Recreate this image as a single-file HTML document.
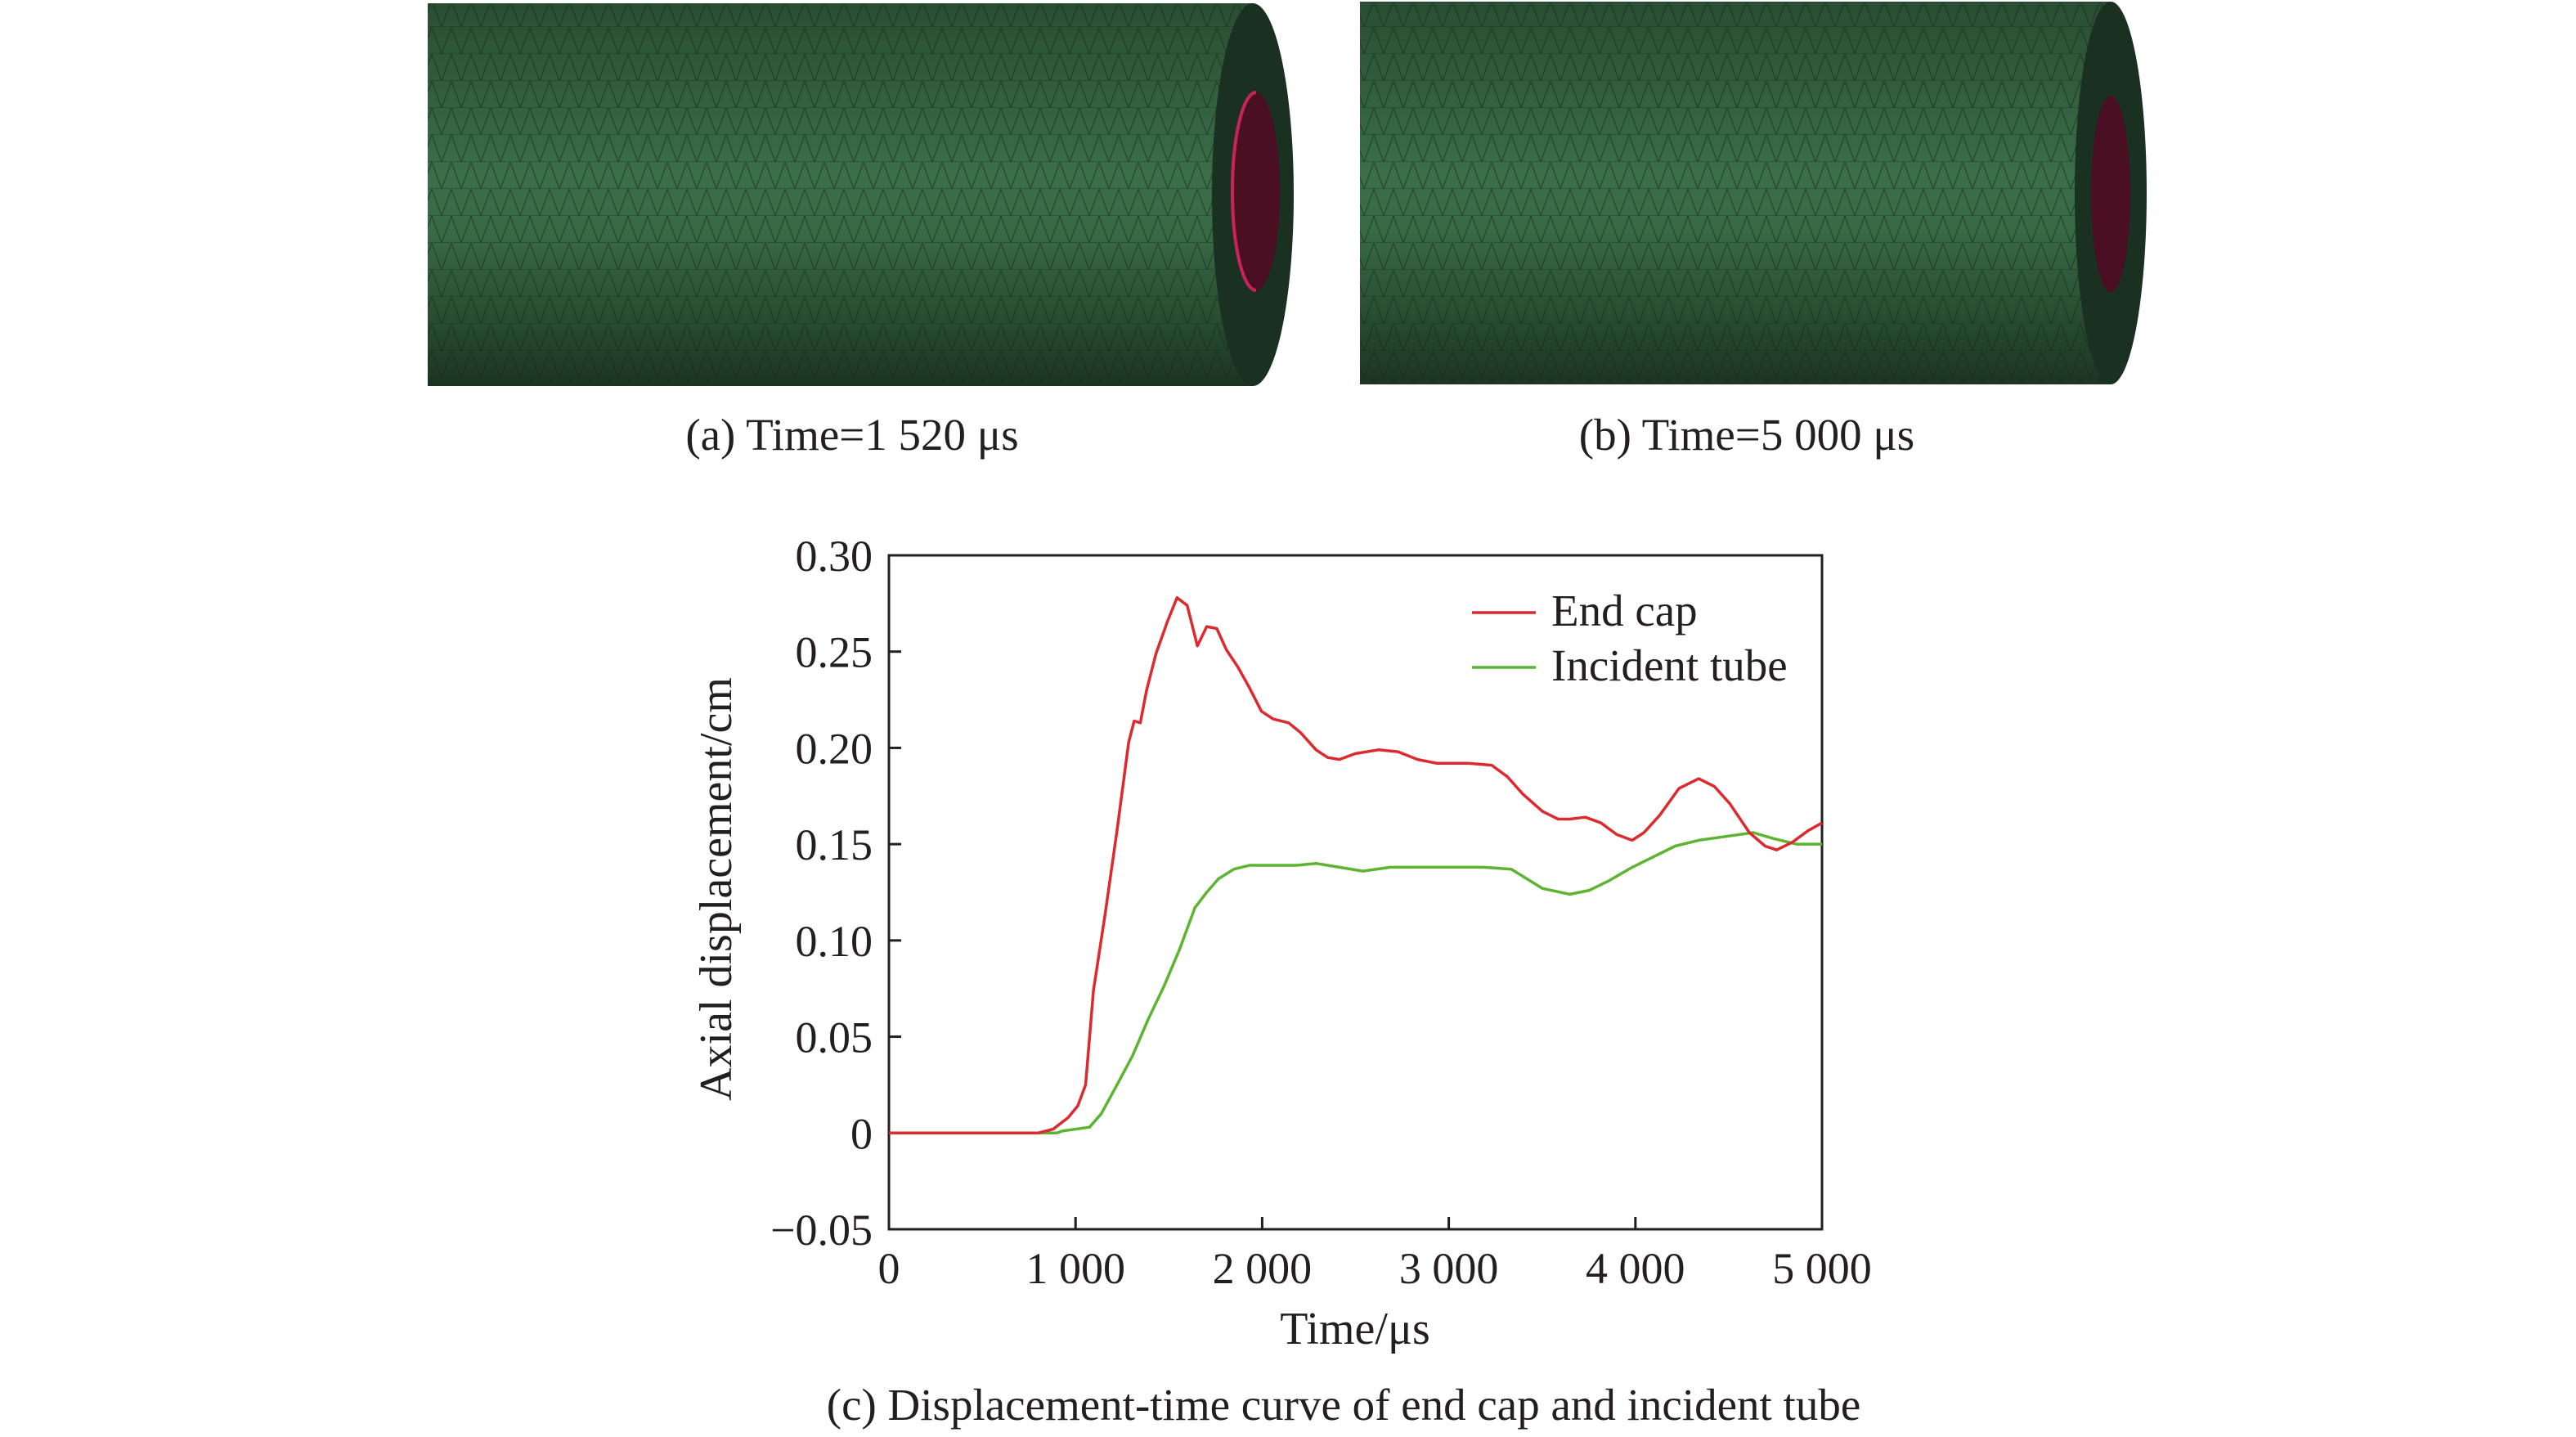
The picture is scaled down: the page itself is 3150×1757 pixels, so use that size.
<!DOCTYPE html>
<html><head><meta charset="utf-8"><style>
html,body{margin:0;padding:0;background:#fff;}
body{width:3150px;height:1752px;overflow:hidden;font-family:"Liberation Serif",serif;}
svg text{font-family:"Liberation Serif",serif;fill:#231f20;}
</style></head><body>
<svg id="fig" width="3150" height="1752" viewBox="0 0 3150 1752" xmlns="http://www.w3.org/2000/svg">
<defs>
<linearGradient id="tubeGrad" x1="0" y1="0" x2="0" y2="1">
<stop offset="0" stop-color="#2a4d33"/><stop offset="0.45" stop-color="#3a6e48"/><stop offset="0.6" stop-color="#386a45"/><stop offset="1" stop-color="#1c3522"/>
</linearGradient>
<pattern id="mesh" width="24" height="33" patternUnits="userSpaceOnUse">
<path d="M0 0 L12 33 L24 0 M0 33 L24 33" stroke="#14261a" stroke-width="1.2" fill="none" opacity="0.55"/>
</pattern>
</defs>

<g>
<rect x="523" y="4" width="1009" height="468" fill="url(#tubeGrad)"/>
<rect x="523" y="4" width="1009" height="468" fill="url(#mesh)"/>
<ellipse cx="1532" cy="238" rx="50" ry="234" fill="#1a3020"/>
<ellipse cx="1536" cy="234" rx="29" ry="121" fill="#4a0f22"/>
<path d="M1536 113 A29 121 0 0 0 1536 355" fill="none" stroke="#c8245a" stroke-width="4"/>
</g>
<g>
<rect x="1663" y="2" width="918" height="468" fill="url(#tubeGrad)"/>
<rect x="1663" y="2" width="918" height="468" fill="url(#mesh)"/>
<ellipse cx="2581" cy="236" rx="44" ry="234" fill="#1a3020"/>
<ellipse cx="2581" cy="237" rx="24" ry="120" fill="#4a0f22"/>
</g>
<text x="1042" y="550" font-size="55" text-anchor="middle">(a) Time=1 520 μs</text>
<text x="2136" y="550" font-size="55" text-anchor="middle">(b) Time=5 000 μs</text>

<g id="chart"></g>
<text x="1643" y="1736" font-size="55" text-anchor="middle">(c) Displacement-time curve of end cap and incident tube</text>
</svg>
<script>
const xTicks=[0,1000,2000,3000,4000,5000];
const xTickLabels=["0","1 000","2 000","3 000","4 000","5 000"];
const yTicks=[-0.05,0,0.05,0.10,0.15,0.20,0.25,0.30];
const yTickLabels=["\u22120.05","0","0.05","0.10","0.15","0.20","0.25","0.30"];
const endCapT=[0,800,880,960,1012,1054,1096,1159,1222,1285,1314,1347,1381,1431,1494,1544,1598,1653,1703,1757,1808,1870,1933,1996,2059,2142,2205,2289,2351,2414,2498,2623,2728,2833,2937,3105,3230,3314,3397,3502,3586,3649,3732,3816,3900,3983,4046,4130,4234,4339,4423,4506,4611,4695,4757,4841,4925,5000];
const endCapV=[0,0,0.002,0.008,0.014,0.025,0.074,0.114,0.157,0.203,0.214,0.213,0.230,0.249,0.266,0.278,0.274,0.253,0.263,0.262,0.251,0.242,0.231,0.219,0.215,0.213,0.208,0.199,0.195,0.194,0.197,0.199,0.198,0.194,0.192,0.192,0.191,0.185,0.176,0.167,0.163,0.163,0.164,0.161,0.155,0.152,0.156,0.165,0.179,0.184,0.180,0.171,0.156,0.149,0.147,0.151,0.157,0.161];
const tubeT=[0,900,929,1075,1138,1222,1305,1389,1473,1556,1640,1703,1766,1849,1933,2059,2184,2289,2414,2540,2686,2937,3188,3335,3418,3502,3649,3753,3858,3983,4088,4213,4339,4485,4632,4736,4862,5000];
const tubeV=[0,0,0.001,0.003,0.010,0.025,0.040,0.059,0.076,0.095,0.117,0.125,0.132,0.137,0.139,0.139,0.139,0.140,0.138,0.136,0.138,0.138,0.138,0.137,0.132,0.127,0.124,0.126,0.131,0.138,0.143,0.149,0.152,0.154,0.156,0.153,0.150,0.150];

const L=1087,R=2228,T=679,B=1503;
const xS=t=>L+(t-0)/(5000-0)*(R-L);
const yS=v=>B-(v-(-0.05))/(0.30-(-0.05))*(B-T);
const NS="http://www.w3.org/2000/svg";
const g=document.getElementById('chart');
function mk(tag,attrs){const e=document.createElementNS(NS,tag);for(const k in attrs)e.setAttribute(k,attrs[k]);g.appendChild(e);return e;}

const frame=mk('rect',{x:L,y:T,width:R-L,height:B-T,fill:'none',stroke:'#231f20','stroke-width':3});



xTicks.forEach((t,i)=>{
  const tk=mk('line',{x1:xS(t),x2:xS(t),y1:B,y2:B-15,stroke:'#231f20','stroke-width':3});
  
  
  const lb=mk('text',{x:xS(t),y:B+66,'font-size':54,'text-anchor':'middle'});
  lb.textContent=xTickLabels[i];
  
  
});
yTicks.forEach((v,i)=>{
  const tk=mk('line',{x1:L,x2:L+15,y1:yS(v),y2:yS(v),stroke:'#231f20','stroke-width':3});
  
  
  const lb=mk('text',{x:L-20,y:yS(v)+19,'font-size':54,'text-anchor':'end'});
  lb.textContent=yTickLabels[i];
  
  
});
function line(ts,vs,color,name){
  const d=ts.map((t,i)=>(i?'L':'M')+xS(t).toFixed(1)+' '+yS(vs[i]).toFixed(1)).join(' ');
  const p=mk('path',{d:d,fill:'none',stroke:color,'stroke-width':3.5,'stroke-linejoin':'round'});
  
  
}
line(tubeT,tubeV,'#5cb431','incident-tube-line');
line(endCapT,endCapV,'#dc2a2e','end-cap-line');

const xt=mk('text',{x:1657,y:1643,'font-size':56,'text-anchor':'middle'});
xt.textContent='Time/μs';


const yt=mk('text',{x:0,y:0,'font-size':56,'text-anchor':'middle',transform:'translate(894,1087) rotate(-90)'});
yt.textContent='Axial displacement/cm';



const l1=mk('line',{x1:1800,x2:1878,y1:749,y2:749,stroke:'#dc2a2e','stroke-width':3.5});


const t1=mk('text',{x:1897,y:765,'font-size':55});
t1.textContent='End cap';


const l2=mk('line',{x1:1800,x2:1878,y1:816,y2:816,stroke:'#5cb431','stroke-width':3.5});


const t2=mk('text',{x:1897,y:832,'font-size':55});
t2.textContent='Incident tube';


</script>
</body></html>
